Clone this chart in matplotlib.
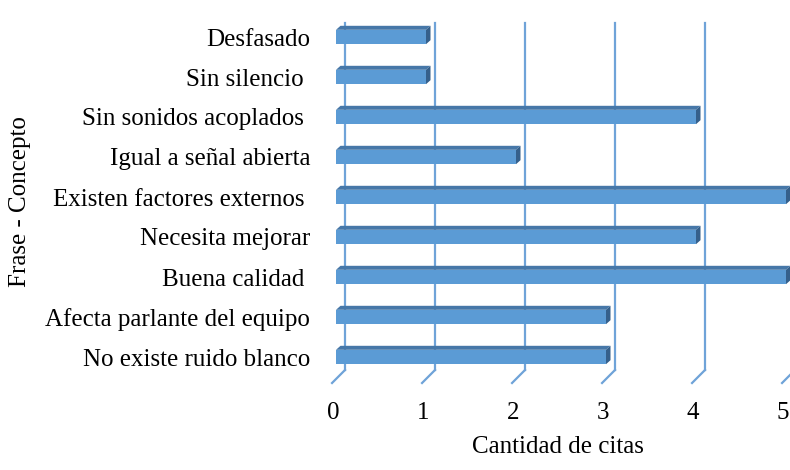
import numpy as np
import matplotlib.pyplot as plt
from matplotlib.patches import Polygon

plt.rcParams['font.family'] = ['Liberation Serif', 'DejaVu Serif']

frases = ['No existe ruido blanco', 'Afecta parlante del equipo', 'Buena calidad ',
          'Necesita mejorar', 'Existen factores externos ', 'Igual a señal abierta',
          'Sin sonidos acoplados ', 'Sin silencio ', 'Desfasado']
citas = [3, 3, 5, 4, 5, 2, 4, 1, 1]
ticks = [0, 1, 2, 3, 4, 5]

front = '#5B9BD5'
top_c = '#4677A8'
side_c = '#35608C'
grid_c = '#6FA3D8'

fig = plt.figure(figsize=(7.9, 4.7), dpi=100)
ax = fig.add_axes([320/790, 75/470, 470/790, 380/470])
ax.set_xlim(-16/90, 454/90)
ax.set_ylim(-0.95, 8.55)

# back wall gridlines with the slanted floor segment
for t in ticks:
    gx = t + 0.1
    ax.plot([gx, gx], [-0.325, 8.35], color=grid_c, lw=1.6, zorder=1)
    ax.plot([gx, gx - 0.144], [-0.325, -0.65], color=grid_c, lw=1.6, zorder=1)

# 3D-looking bars: front face, top face and right side
h = 0.36
dx, dy = 0.05, 0.1
y = np.arange(len(frases))
ax.barh(y, citas, height=h, color=front, zorder=3)
for yi, v in zip(y, citas):
    yt = yi + h / 2
    yb = yi - h / 2
    ax.add_patch(Polygon([(0, yt), (v, yt), (v + dx, yt + dy), (dx, yt + dy)],
                         closed=True, color=top_c, zorder=3, lw=0))
    ax.add_patch(Polygon([(v, yb), (v, yt), (v + dx, yt + dy), (v + dx, yb + dy)],
                         closed=True, color=side_c, zorder=3, lw=0))

ax.set_yticks(y)
ax.set_yticklabels(frases, fontsize=18)
ax.set_xticks([t - 0.033 for t in ticks])
ax.set_xticklabels([str(t) for t in ticks], fontsize=18)
ax.tick_params(axis='y', length=0, pad=7)
ax.tick_params(axis='x', length=0, pad=5)
for s in ax.spines.values():
    s.set_visible(False)

ax.text(2.47, -2.25, 'Cantidad de citas', fontsize=18, ha='center', va='center')
fig.text(20/790, 1 - 202/470, 'Frase - Concepto', fontsize=18, rotation=90,
         ha='center', va='center')

fig.savefig('out.png', dpi=100)
